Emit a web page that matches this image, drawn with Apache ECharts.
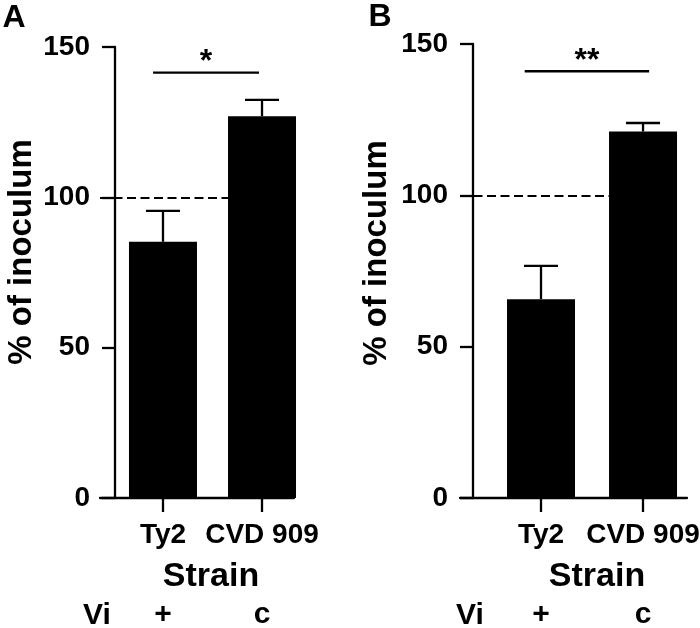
<!DOCTYPE html>
<html>
<head>
<meta charset="utf-8">
<script src="https://cdn.jsdelivr.net/npm/echarts@6/dist/echarts.min.js"></script>
<style>
html,body{margin:0;padding:0;background:#fff;}
#chart{width:700px;height:628px;}
</style>
</head>
<body>
<div id="chart"></div>
<script>
// ---- data ----
const categories = ['Ty2', 'CVD 909'];
const viLabels = ['+', 'c'];
const yTicks = [0, 50, 100, 150];
const meanA = [85.2, 127.0];
const errA = [10.3, 5.4];
const meanB = [65.7, 121.1];
const errB = [11.0, 2.8];
const refLine = 100;
const sigA = [-0.1, 0.97, 141.5, '*'];
const sigB = [-0.16, 1.06, 141, '**'];

const FONT = 'Liberation Sans, Arial, sans-serif';
const chart = echarts.init(document.getElementById('chart'), null, {renderer: 'canvas'});

const xRangeA = [-0.636, 1.323];
const xRangeB = [-0.794, 1.431];

function mainX(gi, range) {
  return {
    type: 'value', gridIndex: gi, position: 'bottom', min: range[0], max: range[1],
    splitLine: {show: false},
    axisLine: {onZero: false, lineStyle: {color: '#000', width: 2.3}},
    axisTick: {show: true, length: 14, customValues: [0, 1], lineStyle: {color: '#000', width: 2.3}},
    axisLabel: {
      customValues: [0, 1], margin: 37, verticalAlign: 'middle',
      formatter: v => categories[Math.round(v)],
      color: '#000', fontSize: 28, fontWeight: 'bold', fontFamily: FONT
    }
  };
}
function viX(gi, range) {
  return {
    type: 'value', gridIndex: gi, position: 'bottom', min: range[0], max: range[1],
    splitLine: {show: false},
    axisLine: {show: false, onZero: false}, axisTick: {show: false},
    axisLabel: {
      customValues: [0, 1], margin: 117, verticalAlign: 'middle',
      formatter: v => viLabels[Math.round(v)],
      color: '#000', fontSize: 30, fontWeight: 'bold', fontFamily: FONT
    }
  };
}
function yAx(gi, off) {
  return {
    type: 'value', gridIndex: gi, min: 0, max: 150, interval: 50, offset: off,
    splitLine: {show: false},
    axisLine: {show: true, onZero: false, lineStyle: {color: '#000', width: 2.3}},
    axisTick: {show: true, length: 13, lineStyle: {color: '#000', width: 2.3}},
    axisLabel: {margin: 25, color: '#000', fontSize: 28, fontWeight: 'bold', fontFamily: FONT,
      formatter: v => String(v)}
  };
}

function barSeries(xi, yi, means, xMin) {
  return {
    type: 'bar', xAxisIndex: xi, yAxisIndex: yi, barWidth: 68,
    itemStyle: {color: '#000'}, z: 3,
    data: means.map((m, i) => [i, m]),
    markLine: {
      silent: true, symbol: 'none', z: 1, label: {show: false},
      lineStyle: {type: [9, 4.5], color: '#000', width: 2.2},
      data: [[{coord: [xMin, refLine]}, {coord: [1, refLine]}]]
    }
  };
}
function errSeries(xi, yi, means, errs) {
  return {
    type: 'custom', xAxisIndex: xi, yAxisIndex: yi, z: 4,
    data: means.map((m, i) => [i, m, errs[i]]),
    encode: {x: 0, y: 1},
    renderItem: function (params, api) {
      const x = api.value(0), m = api.value(1), e = api.value(2);
      const b = api.coord([x, m]);
      const t = api.coord([x, m + e]);
      const st = {stroke: '#000', lineWidth: 2.3};
      return {type: 'group', children: [
        {type: 'line', shape: {x1: t[0], y1: b[1], x2: t[0], y2: t[1]}, style: st},
        {type: 'line', shape: {x1: t[0] - 17, y1: t[1], x2: t[0] + 17, y2: t[1]}, style: st}
      ]};
    }
  };
}
function sigSeries(xi, yi, sig) {
  return {
    type: 'custom', xAxisIndex: xi, yAxisIndex: yi, z: 4,
    data: [sig],
    encode: {x: [0, 1], y: 2},
    renderItem: function (params, api) {
      const p1 = api.coord([api.value(0), api.value(2)]);
      const p2 = api.coord([api.value(1), api.value(2)]);
      return {type: 'group', children: [
        {type: 'line', shape: {x1: p1[0], y1: p1[1], x2: p2[0], y2: p2[1]}, style: {stroke: '#000', lineWidth: 2.3}},
        {type: 'text', x: (p1[0] + p2[0]) / 2, y: p1[1] - 10,
          style: {text: api.value(3), font: 'bold 32px ' + FONT, fill: '#000', align: 'center', verticalAlign: 'middle'}}
      ]};
    }
  };
}

function txt(x, y, text, size, rot) {
  return {type: 'text', x: x, y: y, rotation: rot || 0, silent: true,
    style: {text: text, font: 'bold ' + size + 'px ' + FONT, fill: '#000', align: 'center', verticalAlign: 'middle'}};
}

chart.setOption({
  animation: false,
  backgroundColor: '#fff',
  grid: [
    {left: 100, top: 47, width: 194, height: 451, outerBoundsMode: 'none', containLabel: false},
    {left: 460, top: 44, width: 227, height: 454, outerBoundsMode: 'none', containLabel: false}
  ],
  xAxis: [mainX(0, xRangeA), viX(0, xRangeA), mainX(1, xRangeB), viX(1, xRangeB)],
  yAxis: [yAx(0, -15), yAx(1, -13)],
  series: [
    barSeries(0, 0, meanA, xRangeA[0]),
    errSeries(0, 0, meanA, errA),
    sigSeries(0, 0, sigA),
    barSeries(2, 1, meanB, xRangeB[0]),
    errSeries(2, 1, meanB, errB),
    sigSeries(2, 1, sigB)
  ],
  graphic: [
    txt(14, 18, 'A', 32),
    txt(380, 17, 'B', 32),
    txt(22, 252, '% of inoculum', 33, Math.PI / 2),
    txt(377, 253, '% of inoculum', 33, Math.PI / 2),
    txt(211, 577, 'Strain', 34),
    txt(597, 577, 'Strain', 34),
    txt(97, 616, 'Vi', 30),
    txt(470, 616, 'Vi', 30)
  ]
});
</script>
</body>
</html>
